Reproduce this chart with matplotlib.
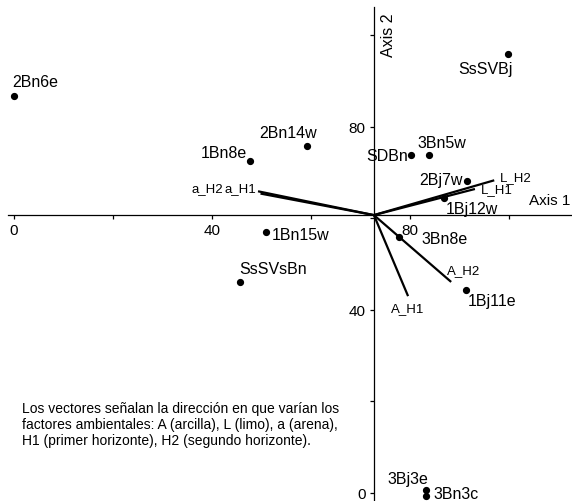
import matplotlib
matplotlib.use("Agg")
from matplotlib import pyplot as plt

plt.rcParams['font.family'] = ['Liberation Sans', 'DejaVu Sans']

# sample scores (Axis 1, Axis 2)
samples = ['2Bn6e', '1Bn8e', '2Bn14w', '1Bn15w', 'SsSVsBn', 'SsSVBj', 'SDBn', '3Bn5w',
           '2Bj7w', '1Bj12w', '3Bn8e', '1Bj11e', '3Bj3e', '3Bn3c']
axis1 = [0.0, 47.7, 59.2, 50.9, 45.7, 99.8, 80.2, 83.8, 91.5, 86.9, 77.8, 91.3, 83.2, 83.2]
axis2 = [86.7, 72.5, 75.8, 57.0, 46.1, 95.9, 73.8, 73.8, 68.1, 64.4, 55.9, 44.3, 0.6, -0.7]

# environmental vectors (tip coordinates), all start at the axes origin
origin = (72.7, 60.7)
vectors = ['a_H1', 'a_H2', 'L_H2', 'L_H1', 'A_H1', 'A_H2']
vec_x = [49.3, 49.8, 97.0, 93.1, 79.6, 88.3]
vec_y = [65.9, 65.4, 68.3, 66.4, 43.0, 46.1]

xticks = [0, 20, 40, 60, 80, 100]
xticklabels = ['0', '', '40', '', '80', '']
yticks = [0, 20, 40, 60, 80, 100]
yticklabels = ['0', '', '40', '', '80', '']

note = ("Los vectores señalan la dirección en que varían los\n"
        "factores ambientales: A (arcilla), L (limo), a (arena),\n"
        "H1 (primer horizonte), H2 (segundo horizonte).")

# label placement: offset in points, ha, va
sample_pos = {
    '2Bn6e': ((-1, 5), 'left', 'bottom'),
    '1Bn8e': ((-2, 1), 'right', 'bottom'),
    '2Bn14w': ((-14, 4), 'center', 'bottom'),
    '1Bn15w': ((4, -2), 'left', 'center'),
    'SsSVsBn': ((-1, 4), 'left', 'bottom'),
    'SsSVBj': ((3, -5), 'right', 'top'),
    'SDBn': ((-2, 0), 'right', 'center'),
    '3Bn5w': ((-8, 4), 'left', 'bottom'),
    '2Bj7w': ((-3, 1), 'right', 'center'),
    '1Bj12w': ((1, -2), 'left', 'top'),
    '3Bn8e': ((16, -1), 'left', 'center'),
    '1Bj11e': ((1, -2), 'left', 'top'),
    '3Bj3e': ((1.5, 3), 'right', 'bottom'),
    '3Bn3c': ((5.5, 2), 'left', 'center'),
}
vector_pos = {
    'a_H1': ((-1, 2), 'right', 'center'),
    'a_H2': ((-27, 4), 'right', 'center'),
    'L_H2': ((4, 2), 'left', 'center'),
    'L_H1': ((4, 0), 'left', 'center'),
    'A_H1': ((0, -4), 'center', 'top'),
    'A_H2': ((-3, 4), 'left', 'bottom'),
}

fig = plt.figure(figsize=(5.72, 5.02), dpi=100)
ax = fig.add_axes([0, 0, 1, 1])
ax.set_xlim(-2.8, 112.7)
ax.set_ylim(-1.75, 107.9)

for sp in ['top', 'right']:
    ax.spines[sp].set_visible(False)
ax.spines['left'].set_position(('data', origin[0]))
ax.spines['bottom'].set_position(('data', origin[1]))
ax.spines['left'].set_bounds(-1.75, 106.2)
ax.spines['bottom'].set_bounds(-1.2, 112.7)
ax.spines['left'].set_linewidth(0.9)
ax.spines['bottom'].set_linewidth(0.9)

ax.set_xticks(xticks)
ax.set_xticklabels(xticklabels)
ax.set_yticks(yticks)
ax.set_yticklabels(yticklabels)
ax.tick_params(axis='both', direction='out', length=3, width=0.9, labelsize=11, pad=3)

for vx, vy in zip(vec_x, vec_y):
    ax.plot([origin[0], vx], [origin[1], vy], color='black', lw=1.6, solid_capstyle='butt')
for name, vx, vy in zip(vectors, vec_x, vec_y):
    off, ha, va = vector_pos[name]
    ax.annotate(name, (vx, vy), xytext=off, textcoords='offset points',
                ha=ha, va=va, fontsize=9.5)

ax.plot(axis1, axis2, 'o', color='black', markersize=4.2)
for name, x, y in zip(samples, axis1, axis2):
    off, ha, va = sample_pos[name]
    ax.annotate(name, (x, y), xytext=off, textcoords='offset points',
                ha=ha, va=va, fontsize=11.5)

ax.text(0.925, 0.6, 'Axis 1', transform=ax.transAxes, fontsize=11,
        ha='left', va='center')
ax.text(0.68, 0.93, 'Axis 2', transform=ax.transAxes, fontsize=11.5,
        ha='center', va='center', rotation=90)

ax.text(0.038, 0.2, note, transform=ax.transAxes, fontsize=10,
        ha='left', va='top', linespacing=1.2)

fig.savefig('out.png', dpi=100)
